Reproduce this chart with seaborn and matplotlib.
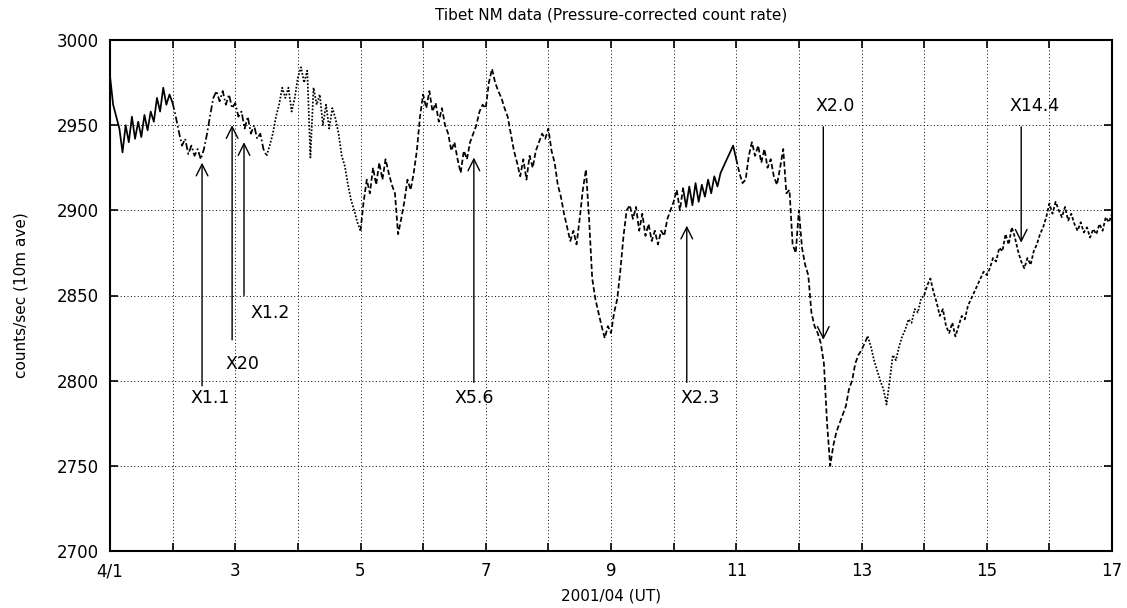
import numpy as np
import pandas as pd
import matplotlib
matplotlib.use("Agg")
import matplotlib.pyplot as plt
import seaborn as sns

# ---- data (pressure-corrected count rate, 0.05-day steps) ----
day01 = [2979, 2962, 2955, 2948, 2934, 2950, 2940, 2955, 2942, 2952, 2943, 2956, 2947, 2958, 2952, 2966, 2958, 2972, 2962, 2968]
day02 = [2963, 2955, 2946, 2938, 2942, 2933, 2938, 2932, 2936, 2930, 2936, 2945, 2956, 2966, 2970, 2964, 2970, 2962, 2968, 2960]
day03 = [2963, 2955, 2958, 2948, 2955, 2945, 2950, 2942, 2945, 2936, 2932, 2938, 2945, 2955, 2962, 2972, 2966, 2972, 2958, 2966]
day04 = [2978, 2984, 2975, 2982, 2931, 2972, 2962, 2968, 2950, 2962, 2948, 2960, 2954, 2945, 2932, 2926, 2915, 2906, 2900, 2893]
day05 = [2888, 2905, 2918, 2910, 2925, 2915, 2928, 2918, 2930, 2922, 2915, 2910, 2886, 2895, 2905, 2918, 2912, 2922, 2935, 2955]
day06 = [2968, 2960, 2970, 2958, 2963, 2952, 2960, 2950, 2945, 2935, 2940, 2930, 2922, 2935, 2930, 2940, 2945, 2950, 2958, 2962]
day07 = [2960, 2975, 2983, 2975, 2970, 2966, 2960, 2955, 2945, 2935, 2928, 2920, 2930, 2918, 2932, 2925, 2935, 2940, 2945, 2942]
day08 = [2948, 2935, 2928, 2915, 2908, 2898, 2890, 2882, 2888, 2880, 2895, 2912, 2924, 2895, 2860, 2848, 2840, 2832, 2825, 2832]
day09 = [2828, 2840, 2848, 2865, 2885, 2900, 2903, 2895, 2902, 2888, 2898, 2885, 2892, 2882, 2888, 2880, 2888, 2885, 2895, 2900]
day10 = [2905, 2912, 2900, 2913, 2902, 2914, 2903, 2916, 2905, 2915, 2908, 2918, 2910, 2920, 2914, 2922, 2926, 2930, 2934, 2938]
day11 = [2930, 2922, 2916, 2918, 2932, 2940, 2932, 2938, 2928, 2936, 2925, 2930, 2920, 2915, 2925, 2936, 2910, 2912, 2880, 2875]
day12 = [2900, 2878, 2868, 2862, 2840, 2832, 2828, 2822, 2810, 2775, 2750, 2762, 2770, 2775, 2780, 2785, 2795, 2800, 2810, 2815]
day13 = [2818, 2822, 2826, 2820, 2812, 2806, 2800, 2795, 2786, 2800, 2815, 2812, 2820, 2826, 2830, 2836, 2834, 2842, 2840, 2848]
day14 = [2850, 2856, 2860, 2852, 2846, 2838, 2842, 2832, 2828, 2834, 2826, 2832, 2838, 2836, 2844, 2848, 2852, 2856, 2860, 2864]
day15 = [2862, 2866, 2872, 2870, 2878, 2876, 2886, 2880, 2890, 2884, 2876, 2870, 2866, 2872, 2868, 2876, 2880, 2886, 2890, 2896]
day16 = [2904, 2898, 2905, 2900, 2896, 2902, 2894, 2898, 2892, 2888, 2893, 2887, 2890, 2884, 2889, 2886, 2892, 2888, 2896, 2893]
day17 = [2898]

counts = (day01 + day02 + day03 + day04 + day05 + day06 + day07 + day08 + day09
          + day10 + day11 + day12 + day13 + day14 + day15 + day16 + day17)
start_day, end_day = 1, 17
days = np.linspace(start_day, end_day, len(counts))

# flare markers: label, day, arrow tail value, arrow head value, label day, label value
flare_labels = ["X1.1", "X20", "X1.2", "X5.6", "X2.3", "X2.0", "X14.4"]
flare_days = [2.47, 2.95, 3.14, 6.81, 10.21, 12.39, 15.55]
flare_tail = [2797, 2824, 2850, 2799, 2799, 2949, 2949]
flare_head = [2928, 2950, 2940, 2931, 2891, 2824, 2881]
flare_label_day = [2.6, 3.12, 3.55, 6.81, 10.42, 12.58, 15.77]
flare_label_val = [2790, 2810, 2840, 2790, 2790, 2961, 2961]

x_ticks = list(range(1, 18))
x_ticklabels = ["4/1" if d == 1 else (str(d) if d % 2 == 1 else "") for d in x_ticks]
y_ticks = [2700, 2750, 2800, 2850, 2900, 2950, 3000]

df = pd.DataFrame({"day": days, "counts": counts})

# line-style segments (gnuplot switched dash type between data files)
segments = [(1.0, 2.0, "-"), (2.0, 3.5, (0, (4, 1.5, 1, 1.5))), (3.5, 5.0, (0, (1, 1))),
            (5.0, 10.15, (0, (3, 1.5))), (10.15, 11.0, "-"), (11.0, 13.1, (0, (3, 1.5))),
            (13.1, 14.0, (0, (1, 1))), (14.0, 17.0, (0, (2, 1.2)))]

sns.set_theme(style="ticks")
plt.rcParams["font.family"] = ["DejaVu Sans"]
plt.rcParams["text.color"] = "black"
plt.rcParams["axes.labelcolor"] = "black"

fig = plt.figure(figsize=(11.27, 6.08), dpi=100)
ax = fig.add_axes([110 / 1127, (608 - 551) / 608, (1112 - 110) / 1127, (551 - 40) / 608])

for a, b, ls in segments:
    seg = df[(df["day"] >= a - 1e-9) & (df["day"] <= b + 1e-9)]
    sns.lineplot(data=seg, x="day", y="counts", ax=ax, color="black",
                 linewidth=1.25, linestyle=ls, estimator=None, sort=False)

for lab, d, t, h, ld, lv in zip(flare_labels, flare_days, flare_tail, flare_head,
                                flare_label_day, flare_label_val):
    ax.annotate("", xy=(d, h), xytext=(d, t),
                arrowprops=dict(arrowstyle="->,head_length=0.6,head_width=0.3",
                                lw=1.0, color="black", shrinkA=0, shrinkB=0,
                                mutation_scale=14))
    ax.text(ld, lv, lab, ha="center", va="center", fontsize=12.5, color="black")

ax.set_xlim(start_day, end_day)
ax.set_ylim(2700, 3000)
ax.set_xticks(x_ticks)
ax.set_xticklabels(x_ticklabels)
ax.set_yticks(y_ticks)
ax.grid(True, color="black", linestyle=(0, (1, 2.5)), linewidth=0.7)
ax.tick_params(direction="in", length=6, width=1.2, top=True, right=True,
               labelsize=12, colors="black", pad=8)
for sp in ax.spines.values():
    sp.set_linewidth(1.5)
    sp.set_color("black")
    sp.set_visible(True)

ax.set_xlabel("2001/04 (UT)", fontsize=11, labelpad=6, color="black")
ax.set_ylabel("counts/sec (10m ave)", fontsize=11, labelpad=20, color="black")
ax.set_title("Tibet NM data (Pressure-corrected count rate)", fontsize=11, pad=15, color="black")

fig.savefig("out.png", dpi=100)
